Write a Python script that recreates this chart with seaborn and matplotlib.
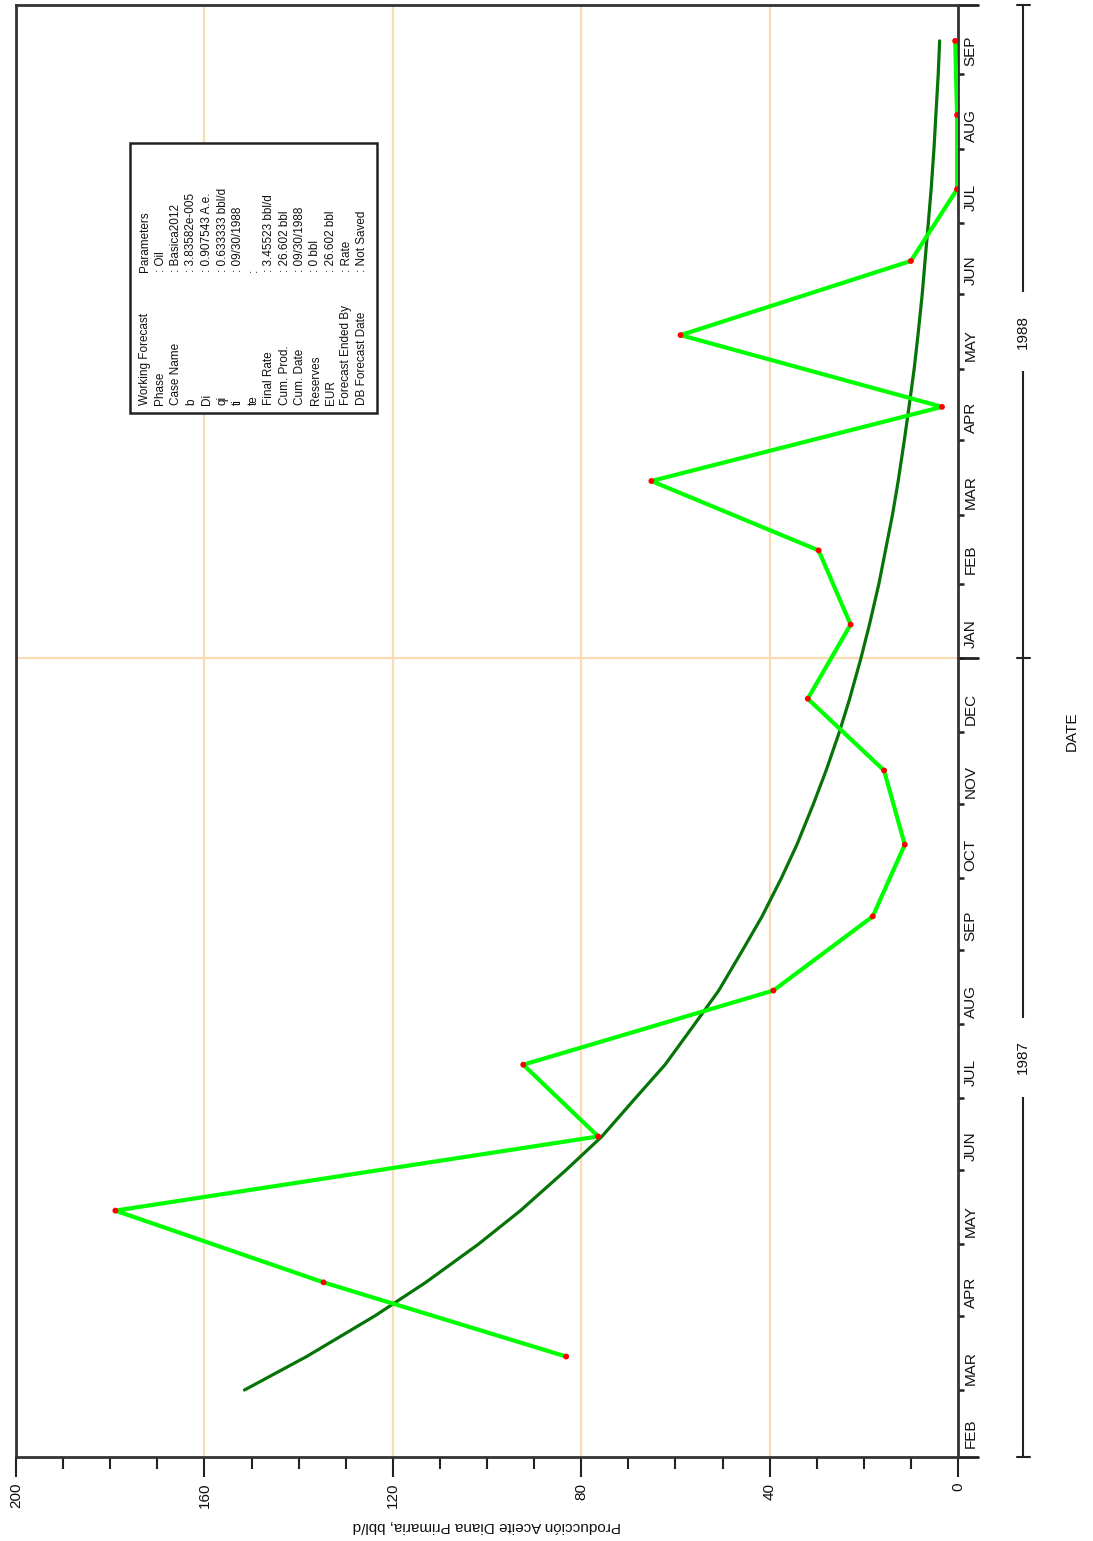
import pandas as pd
import seaborn as sns
import matplotlib.pyplot as plt
import matplotlib.dates as mdates
import matplotlib.transforms as mtransforms
from matplotlib.patches import Rectangle
from matplotlib.ticker import MultipleLocator, FixedLocator, FixedFormatter

# === 1. Datos ===
# produccion mensual (puntos rojos, a mitad de mes)
prod_fechas = pd.date_range("1987-03-01", "1988-09-01", freq="MS") + pd.Timedelta(days=14)
prod_bbl_d = [83.2, 134.7, 178.9, 76.4, 92.3, 39.2, 18.1, 11.3, 15.7, 31.9,
              22.8, 29.6, 65.1, 3.4, 58.9, 10.0, 0.2, 0.2, 0.6]

# pronostico (curva verde oscuro), leido el dia 1 y el 15 de cada mes
fc_inicio = pd.date_range("1987-03-01", "1988-09-01", freq="MS")
fc_fechas = sorted(list(fc_inicio) + list(fc_inicio + pd.Timedelta(days=14)))
fc_bbl_d = [151.5, 138.3, 123.8, 113.0, 101.8, 92.9, 83.2, 75.6, 68.5, 62.2,
            55.9, 50.8, 45.7, 41.6, 37.5, 34.2, 30.7, 28.0, 25.2, 23.0,
            20.6, 18.8, 16.8, 15.4, 13.9, 12.7, 11.4, 10.4, 9.3, 8.5,
            7.6, 7.0, 6.3, 5.7, 5.1, 4.7, 4.2, 3.9]

meses = ["FEB", "MAR", "APR", "MAY", "JUN", "JUL", "AUG", "SEP", "OCT", "NOV", "DEC",
         "JAN", "FEB", "MAR", "APR", "MAY", "JUN", "JUL", "AUG", "SEP"]
anios = ["1987", "1988"]

# cuadro de parametros
param_nombres = ["Working Forecast", "Phase", "Case Name", "b", "Di", "qi", "ti", "te",
                 "Final Rate", "Cum. Prod.", "Cum. Date", "Reserves", "EUR",
                 "Forecast Ended By", "DB Forecast Date"]
param_valores = ["Parameters", ": Oil", ": Basica2012", ": 3.83582e-005", ": 0.907543 A.e.",
                 ": 0.633333 bbl/d", ": 09/30/1988", ":", ": 3.45523 bbl/d", ": 26.602 bbl",
                 ": 09/30/1988", ": 0 bbl", ": 26.602 bbl", ": Rate", ": Not Saved"]

df_prod = pd.DataFrame({"fecha": prod_fechas, "rate": prod_bbl_d})
df_fc = pd.DataFrame({"fecha": fc_fechas, "rate": fc_bbl_d})

# === 2. Estilo ===
sns.set_style("white")
plt.rcParams['font.family'] = ['Liberation Sans', 'DejaVu Sans']

W, H = 1093, 1541
fig = plt.figure(figsize=(W / 100, H / 100), dpi=100)
ax = fig.add_axes([16 / W, 84 / H, 942 / W, 1452 / H])

# === 3. Curvas (grafico girado: tasa en x, fecha en y) ===
sns.lineplot(data=df_fc, x="rate", y="fecha", orient="y", sort=False, estimator=None,
             color="#067406", lw=2.3, ax=ax, zorder=3)
sns.lineplot(data=df_prod, x="rate", y="fecha", orient="y", sort=False, estimator=None,
             color="#00ff00", lw=3, ax=ax, zorder=4)
sns.scatterplot(data=df_prod, x="rate", y="fecha", color="red", s=18, edgecolor="none",
                ax=ax, zorder=5)

inicio = pd.Timestamp("1987-02-01")
fin = pd.Timestamp("1988-09-30")
cambio_anio = pd.Timestamp("1988-01-01")

ax.set_xlim(200, 0)
ax.set_ylim(mdates.date2num(inicio), mdates.date2num(fin))

# grilla
grid_col = "#fbdcb2"
for v in [40, 80, 120, 160]:
    ax.axvline(v, color=grid_col, lw=1.6, zorder=1)
ax.axhline(mdates.date2num(cambio_anio), color=grid_col, lw=1.6, zorder=1)

# eje de produccion (abajo)
ax.xaxis.set_major_locator(MultipleLocator(40))
ax.xaxis.set_minor_locator(MultipleLocator(10))
ax.tick_params(axis="x", which="major", bottom=True, length=14.5, width=1.5, pad=4,
               labelsize=11, labelrotation=90, color="#222222", labelcolor="#111111")
ax.tick_params(axis="x", which="minor", bottom=True, length=8.5, width=1.5, color="#222222")
ax.set_xlabel("Producción Aceite Diana Primaria, bbl/d", rotation=180, fontsize=11,
              va="center", color="#111111")
ax.xaxis.set_label_coords(0.5, (1457 - 1526) / 1452)

# eje de fechas (derecha)
inicios_mes = pd.date_range("1987-02-01", "1988-09-01", freq="MS")
mitad_mes = inicios_mes + pd.Timedelta(days=14)
ax.yaxis.tick_right()
ax.yaxis.set_major_locator(FixedLocator(mdates.date2num(mitad_mes)))
ax.yaxis.set_major_formatter(FixedFormatter(meses))
ax.yaxis.set_minor_locator(FixedLocator(mdates.date2num(inicios_mes[1:])))
ax.tick_params(axis="y", which="major", length=0, pad=4, labelsize=11, labelrotation=90,
               labelcolor="#111111")
ax.tick_params(axis="y", which="minor", right=True, length=4.5, width=1.8,
               direction="out", color="#222222")
ax.set_ylabel("")

for s in ax.spines.values():
    s.set_color("#333333")
    s.set_linewidth(2)

# marcas de anio y barra de anios
trans = mtransforms.blended_transform_factory(ax.transAxes, ax.transData)
for d in [inicio, cambio_anio, fin]:
    y = mdates.date2num(d)
    ax.plot([1.0, 1.021], [y, y], transform=trans, clip_on=False, color="#222222", lw=2)
    ax.plot([1.0626, 1.0764], [y, y], transform=trans, clip_on=False, color="#222222", lw=1.5)
ax.plot([1.069, 1.069], [mdates.date2num(inicio), mdates.date2num(fin)], transform=trans,
        clip_on=False, color="#222222", lw=1.5)
limites = [(inicio, cambio_anio), (cambio_anio, fin)]
for etiqueta, (a, b) in zip(anios, limites):
    ymid = (mdates.date2num(a) + mdates.date2num(b)) / 2
    ax.text(1.069, ymid, etiqueta, transform=trans, rotation=90, ha="center", va="center",
            fontsize=11, zorder=6, color="#111111",
            bbox=dict(boxstyle="square,pad=1.45", fc="white", ec="none"))

ax.text((1072 - 16) / 942, 0.5, "DATE", transform=ax.transAxes, rotation=90,
        ha="center", va="center", fontsize=11, color="#111111")

# === 4. Cuadro de parametros ===
caja = Rectangle((130 / W, 1 - 413 / H), 247 / W, 270 / H, transform=fig.transFigure,
                 facecolor="white", edgecolor="#222222", lw=1.8, zorder=5)
fig.add_artist(caja)
for i, (nombre, valor) in enumerate(zip(param_nombres, param_valores)):
    xr = (145 + 15.5 * i) / W
    fig.text(xr, 1 - 405 / H, nombre, rotation=90, ha="center", va="bottom",
             fontsize=8.5, zorder=6, color="#111111")
    fig.text(xr, 1 - 272 / H, valor, rotation=90, ha="center", va="bottom",
             fontsize=8.5, zorder=6, color="#111111")

fig.savefig("out.png", dpi=100)
